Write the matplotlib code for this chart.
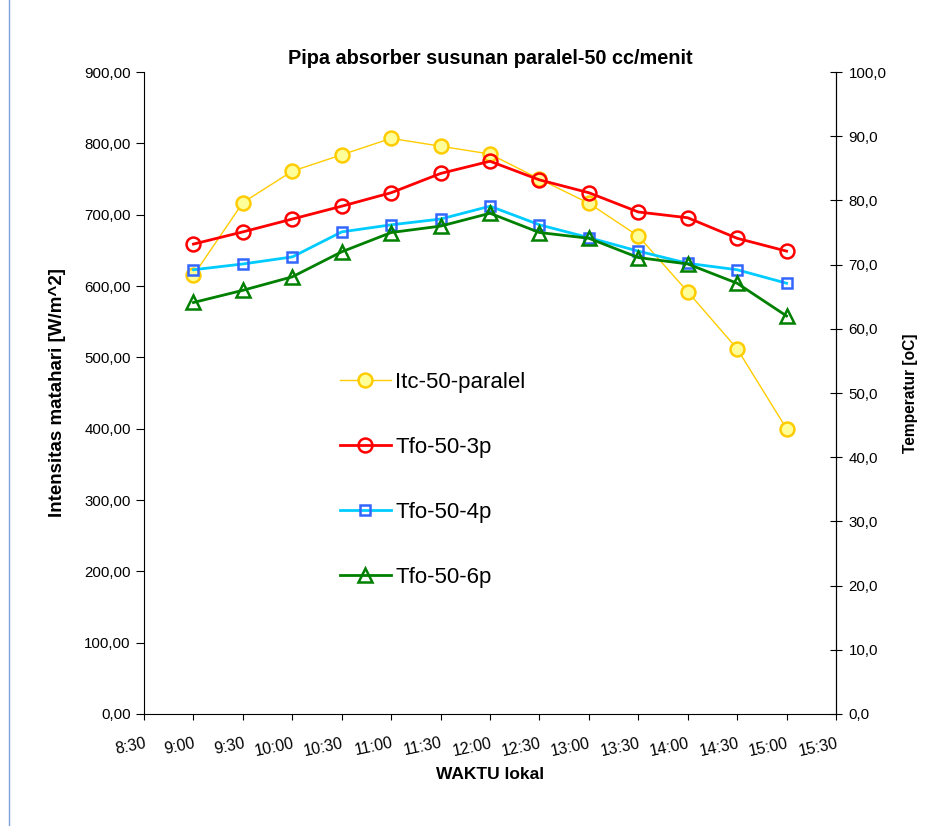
import matplotlib.pyplot as plt
from matplotlib.lines import Line2D

plt.rcParams['font.family'] = ['Liberation Sans', 'DejaVu Sans']

# jam pengukuran
waktu = ["9:00", "9:30", "10:00", "10:30", "11:00", "11:30", "12:00",
         "12:30", "13:00", "13:30", "14:00", "14:30", "15:00"]

# intensitas matahari [W/m^2]
itc_50_paralel = [615, 717, 761, 784, 807, 796, 785, 750, 716, 670, 592, 512, 400]

# temperatur fluida keluar [oC]
tfo_50_3p = [73.2, 75.1, 77.1, 79.1, 81.2, 84.2, 86.1, 83.2, 81.2, 78.2, 77.3, 74.1, 72.1]
tfo_50_4p = [69.2, 70.1, 71.2, 75.1, 76.2, 77.1, 79.1, 76.2, 74.2, 72.1, 70.2, 69.2, 67.1]
tfo_50_6p = [64.1, 66.0, 68.1, 72.0, 75.0, 76.0, 78.0, 75.0, 74.1, 71.1, 70.1, 67.1, 62.0]

xtick_labels = ["8:30", "9:00", "9:30", "10:00", "10:30", "11:00", "11:30", "12:00",
                "12:30", "13:00", "13:30", "14:00", "14:30", "15:00", "15:30"]
yleft_ticks = [0, 100, 200, 300, 400, 500, 600, 700, 800, 900]
yright_ticks = [0, 10, 20, 30, 40, 50, 60, 70, 80, 90, 100]


def ke_jam(s):
    h, m = s.split(":")
    return int(h) + int(m) / 60


x = [ke_jam(w) for w in waktu]
xt = [ke_jam(w) for w in xtick_labels]

fig = plt.figure(figsize=(9.39, 8.26), dpi=100)
ax = fig.add_axes([0.1534, 0.1356, 0.7369, 0.7772])
ax2 = ax.twinx()

# garis tepi kiri area grafik
fig.add_artist(Line2D([0.0095, 0.0095], [0, 1], transform=fig.transFigure,
                      color='#7f9fdf', lw=1))

l1, = ax.plot(x, itc_50_paralel, color='#FFCC00', lw=1, marker='o', ms=10,
              mfc='#FFFF99', mec='#FFCC00', mew=1.8, label='Itc-50-paralel', zorder=3)
l2, = ax2.plot(x, tfo_50_3p, color='#FF0000', lw=2, marker='o', ms=10,
               mfc='none', mec='#FF0000', mew=1.8, label='Tfo-50-3p')
l3, = ax2.plot(x, tfo_50_4p, color='#00CCFF', lw=2, marker='s', ms=7.5,
               mfc='none', mec='#3366FF', mew=1.8, label='Tfo-50-4p')
l4, = ax2.plot(x, tfo_50_6p, color='#008000', lw=2, marker='^', ms=10,
               mfc='none', mec='#008000', mew=1.8, label='Tfo-50-6p')

ax.set_xlim(8.5, 15.5)
ax.set_ylim(0, 900)
ax2.set_ylim(0, 100)

ax.set_xticks(xt)
ax.set_xticklabels(xtick_labels, rotation=12, fontsize=11.5, ha='right',
                   va='top', rotation_mode='anchor')
ax.set_yticks(yleft_ticks)
ax.set_yticklabels([f"{v:.2f}".replace(".", ",") for v in yleft_ticks], fontsize=10.8)
ax2.set_yticks(yright_ticks)
ax2.set_yticklabels([f"{v:.1f}".replace(".", ",") for v in yright_ticks], fontsize=10.8)

ax.tick_params(axis='x', direction='out', length=4.5, pad=11)
ax.tick_params(axis='y', direction='out', length=5.5, pad=4)
ax2.tick_params(axis='y', direction='inout', length=8, pad=5)

for a in (ax, ax2):
    a.spines['top'].set_visible(False)
ax2.spines['left'].set_visible(False)
ax2.spines['bottom'].set_visible(False)

ax.set_title("Pipa absorber susunan paralel-50 cc/menit", fontsize=14.3,
             fontweight='bold', pad=6)
ax.set_xlabel("WAKTU lokal", fontsize=12.5, fontweight='bold', labelpad=6)
ax.set_ylabel("Intensitas matahari [W/m^2]", fontsize=13.5, fontweight='bold', labelpad=13)
ax2.set_ylabel("Temperatur [oC]", fontsize=11.2, fontweight='bold', labelpad=12)

ax.legend(handles=[l1, l2, l3, l4], loc='upper left', bbox_to_anchor=(0.27, 0.547),
          frameon=False, fontsize=16, handlelength=2.3, labelspacing=1.98,
          handletextpad=0.2, borderaxespad=0)

fig.savefig("out.png", dpi=100)
